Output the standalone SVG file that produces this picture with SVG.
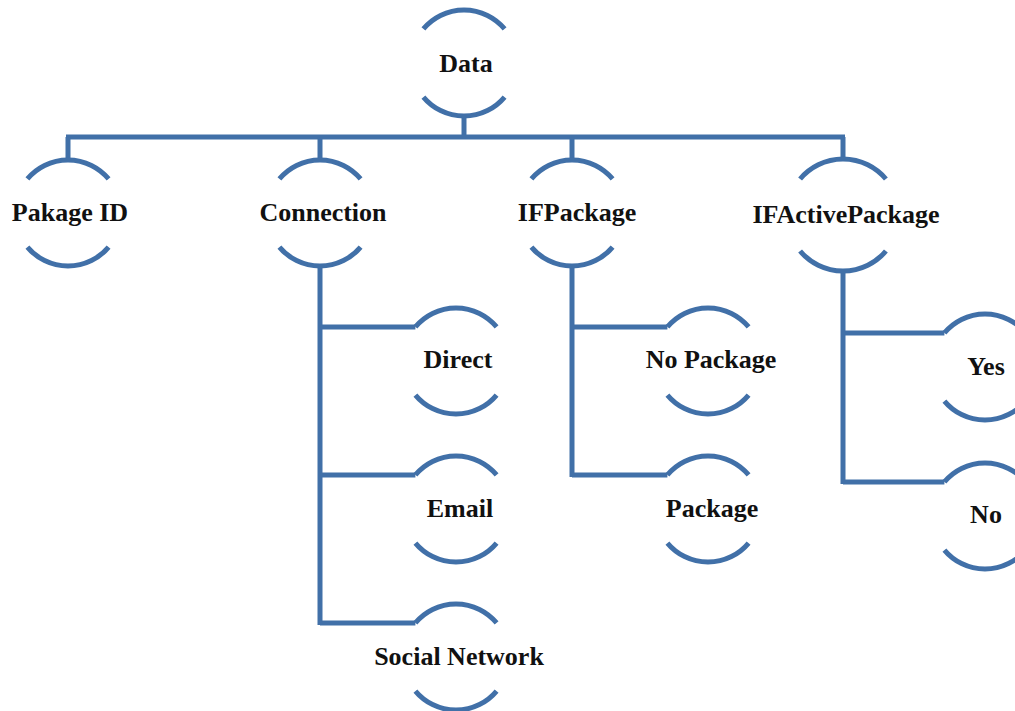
<svg xmlns="http://www.w3.org/2000/svg" xmlns:xlink="http://www.w3.org/1999/xlink" width="1015" height="711" viewBox="0 0 1015 711">
<style>
.arc{fill:none;stroke:#4170A8;stroke-width:5}
.conn path{fill:none;stroke:#4170A8;stroke-width:5}
text{font-family:"Liberation Serif","Times New Roman",serif;font-weight:bold;font-size:26px;fill:#111;text-anchor:middle}
</style>
<defs>
<path id="t" class="arc" d="M-40.6,-34.1 A53,53 0 0 1 40.6,-34.1"/>
<path id="b" class="arc" d="M-40.6,34.1 A53,53 0 0 0 40.6,34.1"/>
</defs>
<rect width="1015" height="711" fill="#fff"/>
<g class="conn" id="connectors">
<path d="M464,115 V137"/>
<path d="M66,137 H845"/>
<path d="M68,137 V160 M320,137 V160 M572,137 V160 M843,137 V159"/>
<path d="M320,266 V625 M320,327 H415.4 M320,475 H415.4 M320,623 H415.4"/>
<path d="M572,266 V477 M572,327 H667.4 M572,475 H667.4"/>
<path d="M843,271 V484 M843,333 H944.4 M843,482 H944.4"/>
</g>
<g id="data" transform="translate(464,63)"><use xlink:href="#t"/><use xlink:href="#b"/><text x="2" y="9">Data</text></g>
<g id="pakage-id" transform="translate(68,213)"><use xlink:href="#t"/><use xlink:href="#b"/><text x="2" y="8">Pakage ID</text></g>
<g id="connection" transform="translate(320,213)"><use xlink:href="#t"/><use xlink:href="#b"/><text x="3" y="8">Connection</text></g>
<g id="ifpackage" transform="translate(572,213)"><use xlink:href="#t"/><use xlink:href="#b"/><text x="5" y="8">IFPackage</text></g>
<g id="ifactivepackage" transform="translate(843,215)"><path class="arc" d="M-42.9,-36 A56,56 0 0 1 42.9,-36"/><path class="arc" d="M-42.9,36 A56,56 0 0 0 42.9,36"/><text x="3" y="8">IFActivePackage</text></g>
<g id="direct" transform="translate(456,361)"><use xlink:href="#t"/><use xlink:href="#b"/><text x="2" y="7">Direct</text></g>
<g id="email" transform="translate(456,509)"><use xlink:href="#t"/><use xlink:href="#b"/><text x="4" y="8">Email</text></g>
<g id="social-network" transform="translate(456,657)"><use xlink:href="#t"/><use xlink:href="#b"/><text x="3" y="8">Social Network</text></g>
<g id="no-package" transform="translate(708,361)"><use xlink:href="#t"/><use xlink:href="#b"/><text x="3" y="7">No Package</text></g>
<g id="package" transform="translate(708,509)"><use xlink:href="#t"/><use xlink:href="#b"/><text x="4" y="8">Package</text></g>
<g id="yes" transform="translate(985,367)"><use xlink:href="#t"/><use xlink:href="#b"/><text x="1" y="8">Yes</text></g>
<g id="no" transform="translate(985,516)"><use xlink:href="#t"/><use xlink:href="#b"/><text x="1" y="7">No</text></g>
</svg>
